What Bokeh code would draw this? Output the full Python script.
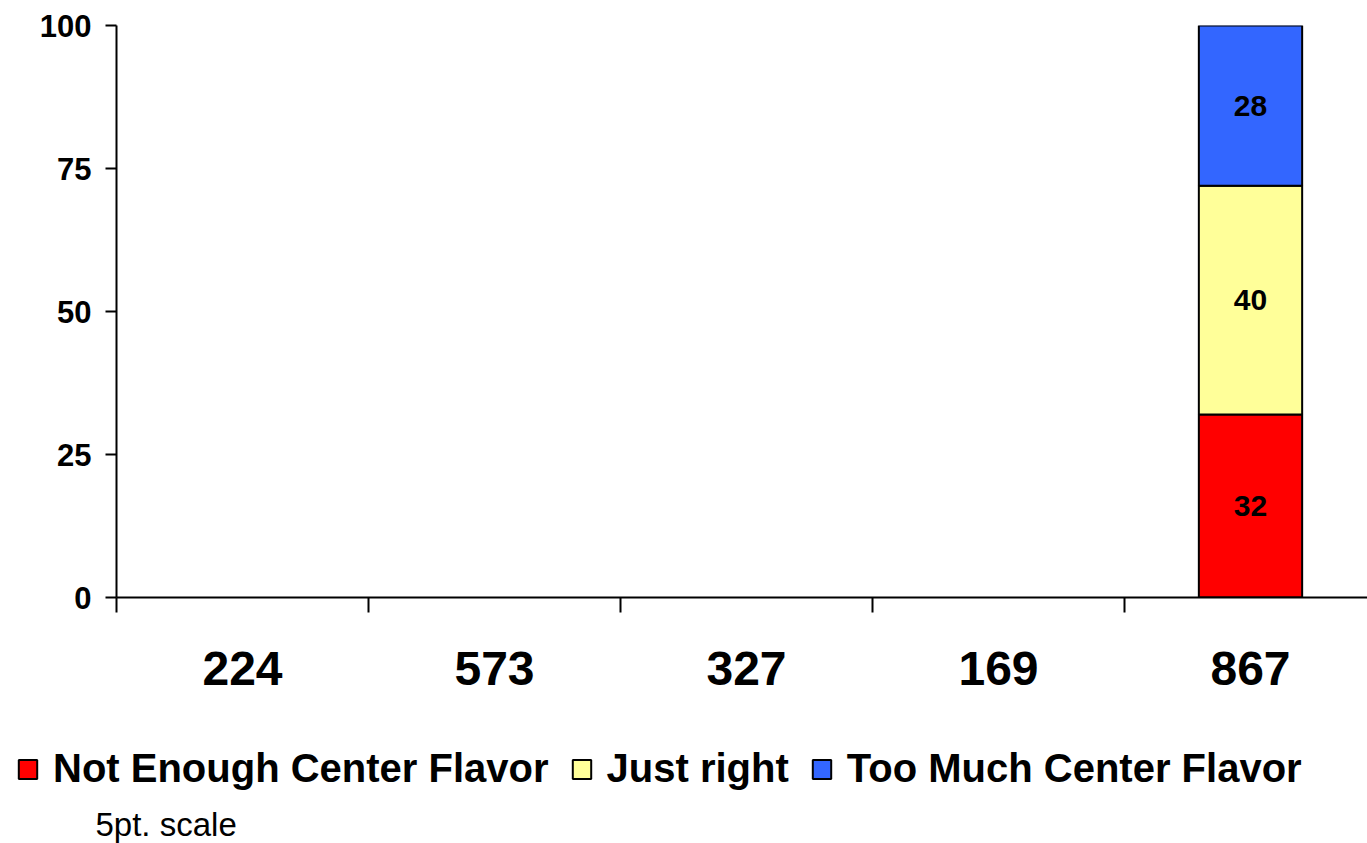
import math
from bokeh.plotting import figure
from bokeh.layouts import column
from bokeh.models import (Range1d, FixedTicker, ColumnDataSource, Legend, LegendItem, Label)
from bokeh.core.properties import value
from bokeh.embed import file_html
from bokeh.resources import INLINE

# ---- data ----
categories = ["224", "573", "327", "169", "867"]
not_enough = [math.nan, math.nan, math.nan, math.nan, 32]
just_right = [math.nan, math.nan, math.nan, math.nan, 40]
too_much = [math.nan, math.nan, math.nan, math.nan, 28]
series_names = ["Not Enough Center Flavor", "Just right", "Too Much Center Flavor"]
series_colors = ["#FF0000", "#FFFF99", "#3366FF"]
y_ticks = [0, 25, 50, 75, 100]
footnote = "5pt. scale"

FONT = "Liberation Sans"

xs = list(range(len(categories)))
src = ColumnDataSource(dict(
    x=xs, cat=categories,
    ne=not_enough, jr=just_right, tm=too_much,
))

W = 1367
H1, H2 = 700, 143
LEFT, TOP = 116, 25
BOTTOM = H1 - 597
p = figure(width=W, height=H1, output_backend="svg", toolbar_location=None,
           x_range=Range1d(-0.5, -0.5 + (W - LEFT) / 252.0),
           y_range=Range1d(0, 100),
           min_border_left=LEFT, min_border_right=0, min_border_top=TOP,
           min_border_bottom=BOTTOM)
p.frame_align = False
p.outline_line_color = None
p.xgrid.visible = False
p.ygrid.visible = False
p.background_fill_color = "white"
p.border_fill_color = "white"

renderers = p.vbar_stack(["ne", "jr", "tm"], x="x", width=0.41, source=src,
                         fill_color=series_colors, line_color="black", line_width=2)

# stacked labels
lab_x, lab_y, lab_t = [], [], []
for i in range(len(categories)):
    base = 0.0
    for vals in (not_enough, just_right, too_much):
        v = vals[i]
        if not math.isnan(v):
            lab_x.append(xs[i]); lab_y.append(base + v / 2.0); lab_t.append(str(int(v)))
            base += v
p.text(x=lab_x, y=lab_y, text=lab_t, text_align="center", text_baseline="middle",
       text_font=value(FONT), text_font_style="bold", text_font_size="30px",
       text_color="black")

# x axis
xa = p.xaxis[0]
xa.ticker = FixedTicker(ticks=xs, minor_ticks=[i - 0.5 for i in range(len(categories) + 1)])
xa.major_label_overrides = {i: c for i, c in enumerate(categories)}
xa.major_tick_out = 0
xa.major_tick_in = 0
xa.minor_tick_in = 0
xa.minor_tick_out = 15
xa.minor_tick_line_color = "black"
xa.minor_tick_line_width = 2
xa.axis_line_width = 2
xa.axis_line_color = "black"
xa.major_label_text_font = FONT
xa.major_label_text_font_style = "bold"
xa.major_label_text_font_size = "48px"
xa.major_label_text_color = "black"
xa.major_label_standoff = 39

# y axis
ya = p.yaxis[0]
ya.ticker = FixedTicker(ticks=y_ticks)
ya.major_tick_out = 11
ya.major_tick_in = 0
ya.minor_tick_out = 0
ya.minor_tick_in = 0
ya.major_tick_line_width = 2
ya.major_tick_line_color = "black"
ya.axis_line_width = 2
ya.axis_line_color = "black"
ya.major_label_text_font = FONT
ya.major_label_text_font_style = "bold"
ya.major_label_text_font_size = "31px"
ya.major_label_text_color = "black"
ya.major_label_standoff = 14

# ---- legend + footnote strip (pixel coordinates) ----
p2 = figure(width=W, height=H2, output_backend="svg", toolbar_location=None,
            x_range=Range1d(0, W), y_range=Range1d(0, H2),
            x_axis_type=None, y_axis_type=None,
            min_border=0, min_border_left=0, min_border_right=0,
            min_border_top=0, min_border_bottom=0)
p2.frame_align = False
p2.outline_line_color = None
p2.xgrid.visible = False
p2.ygrid.visible = False
p2.background_fill_color = "white"
p2.border_fill_color = "white"

# hidden key renderers (only their style is used by the legend)
keys = []
for c in series_colors:
    keys.append(p2.vbar(x=[0], top=[0], width=1, fill_color=c, line_color="black",
                        line_width=2, visible=False))

legend = Legend(items=[LegendItem(label=n, renderers=[r]) for n, r in zip(series_names, keys)],
                orientation="horizontal", location=(16, 52),
                padding=0, margin=0, spacing=21, label_standoff=14,
                glyph_width=23, glyph_height=24,
                label_text_font=FONT, label_text_font_style="bold",
                label_text_font_size="40px", label_text_color="black",
                border_line_color=None, background_fill_alpha=0)
p2.add_layout(legend, "center")

p2.add_layout(Label(x=95, y=19, text=footnote,
                    text_font=FONT, text_font_size="33px", text_color="black",
                    text_baseline="alphabetic"))

open("out.html", "w").write(file_html(column(p, p2, spacing=0), INLINE))
